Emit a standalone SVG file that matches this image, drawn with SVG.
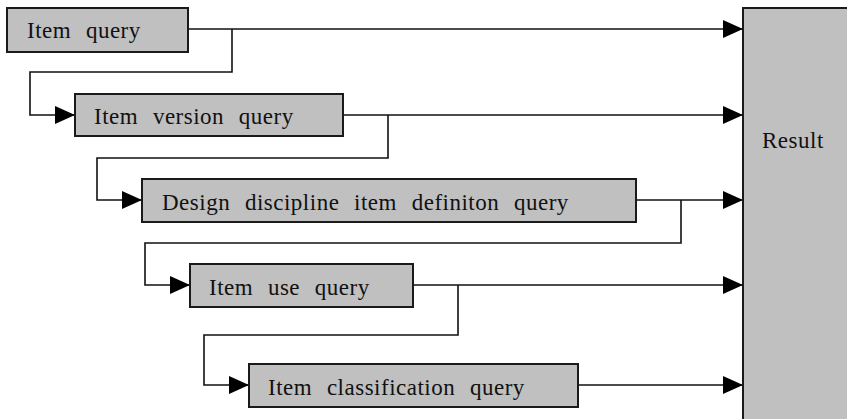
<svg xmlns="http://www.w3.org/2000/svg" width="847" height="419" viewBox="0 0 847 419">
<style>
.box{fill:#c0c0c0;stroke:#1a1a1a;stroke-width:2}
.lbl{font-family:"Liberation Serif","Times New Roman",serif;font-size:23px;letter-spacing:0.5px;word-spacing:8.5px;fill:#111}
.ln{fill:none;stroke:#111;stroke-width:1.6}
</style>
<defs>
<marker id="ah" markerUnits="userSpaceOnUse" markerWidth="20" markerHeight="18" refX="20" refY="9" orient="auto">
<path d="M0,0 L20,9 L0,18 Z" fill="#000"/>
</marker>
</defs>
<g id="connectors">
<path class="ln" d="M188,29 H743" marker-end="url(#ah)"/>
<path class="ln" d="M232,29 V72 H30 V115 H75" marker-end="url(#ah)"/>
<path class="ln" d="M343,115 H743" marker-end="url(#ah)"/>
<path class="ln" d="M388,115 V158 H97 V200 H142" marker-end="url(#ah)"/>
<path class="ln" d="M636,200 H743" marker-end="url(#ah)"/>
<path class="ln" d="M681,200 V243 H145 V285 H190" marker-end="url(#ah)"/>
<path class="ln" d="M413,285 H743" marker-end="url(#ah)"/>
<path class="ln" d="M458,285 V335 H204 V385 H249" marker-end="url(#ah)"/>
<path class="ln" d="M578,385 H743" marker-end="url(#ah)"/>
</g>
<g id="item-query">
<rect class="box" x="7" y="8" width="181" height="44"/>
<text class="lbl" x="27" y="38">Item query</text>
</g>
<g id="item-version-query">
<rect class="box" x="75" y="94" width="268" height="42"/>
<text class="lbl" x="94" y="124">Item version query</text>
</g>
<g id="design-discipline-query">
<rect class="box" x="142" y="179" width="494" height="43"/>
<text class="lbl" x="162" y="210">Design discipline item definiton query</text>
</g>
<g id="item-use-query">
<rect class="box" x="190" y="264" width="223" height="43"/>
<text class="lbl" x="209" y="295">Item use query</text>
</g>
<g id="item-classification-query">
<rect class="box" x="249" y="364" width="329" height="43"/>
<text class="lbl" x="268" y="395">Item classification query</text>
</g>
<g id="result">
<rect class="box" x="743" y="8" width="120" height="430"/>
<text class="lbl" x="762" y="148" word-spacing="0">Result</text>
</g>
</svg>
